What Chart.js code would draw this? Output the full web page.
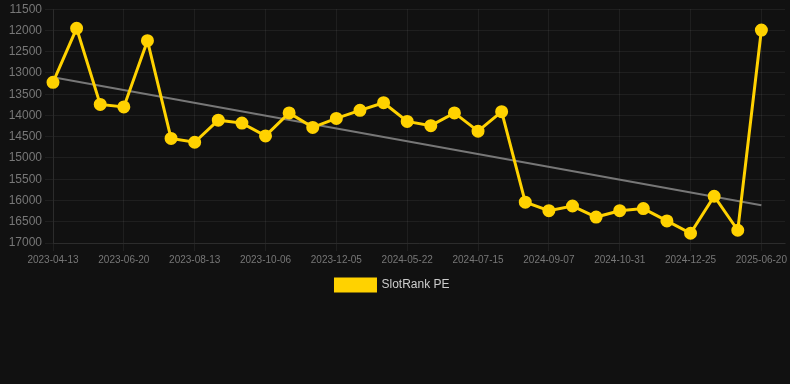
<!DOCTYPE html>
<html>
<head>
<meta charset="utf-8">
<script src="https://cdn.jsdelivr.net/npm/chart.js@4/dist/chart.umd.min.js"></script>
<style>
    html, body { margin: 0; padding: 0; background: #111111; overflow: hidden; }
    #wrap { position: relative; width: 790px; height: 302px; margin-top: -1px; }
</style>
</head>
<body>
<div id="wrap"><canvas id="chart"></canvas></div>
<script>
"use strict";

// rank per date, lower is better (axis is reversed)
const DATES = [
    "2023-04-13", "2023-05-06", "2023-05-28", "2023-06-20", "2023-07-08", "2023-07-26",
    "2023-08-13", "2023-08-31", "2023-09-18", "2023-10-06", "2023-10-26", "2023-11-15",
    "2023-12-05", "2024-02-10", "2024-04-01", "2024-05-22", "2024-06-09", "2024-06-27",
    "2024-07-15", "2024-08-02", "2024-08-20", "2024-09-07", "2024-09-25", "2024-10-13",
    "2024-10-31", "2024-11-18", "2024-12-07", "2024-12-25", "2025-02-20", "2025-04-20",
    "2025-06-20"
];
const RANKS = [
    13220, 11950, 13740, 13800, 12240, 14540, 14630, 14110, 14180, 14480, 13940,
    14280, 14070, 13880, 13700, 14140, 14240, 13940, 14370, 13910, 16040, 16240,
    16130, 16390, 16240, 16190, 16480, 16770, 15900, 16700, 11990
];
const TREND_START = 13100;
const TREND_END = 16110;

const Y_MIN = 11500;
const Y_MAX = 17000;
const Y_STEP = 500;
const LABEL_EVERY = 3;

const GOLD = "#ffd200";
const GRID = "rgba(255,255,255,0.06)";
const FONT = "Arial, 'Liberation Sans', sans-serif";

document.addEventListener("DOMContentLoaded", () => {
    const ctx = document.getElementById("chart").getContext("2d");
    // one empty slot after the last date: the grid runs on past the last point
    const labels = DATES.concat([""]);
    new Chart(ctx, {
        type: "line",
        data: {
            labels,
            datasets: [{
                label: "SlotRank PE",
                data: RANKS,
                borderColor: GOLD,
                backgroundColor: GOLD,
                borderWidth: 3,
                pointRadius: 5,
                pointHoverRadius: 6,
                pointBackgroundColor: GOLD,
                pointBorderColor: GOLD,
                tension: 0,
                clip: false,
                order: 1
            }, {
                label: "trend",
                data: [
                    { x: DATES[0], y: TREND_START },
                    { x: DATES[DATES.length - 1], y: TREND_END }
                ],
                borderColor: "#777777",
                borderWidth: 2,
                pointRadius: 0,
                tension: 0,
                order: 2
            }]
        },
        options: {
            responsive: true, maintainAspectRatio: false, animation: false,
            layout: { autoPadding: false, padding: { left: 0, right: 5 } },
            plugins: {
                legend: {
                    position: "bottom",
                    labels: {
                        color: "#cccccc",
                        font: { family: FONT, size: 12 },
                        boxWidth: 40, boxHeight: 12,
                        filter: item => item.datasetIndex === 0
                    }
                },
                tooltip: { enabled: false }
            },
            scales: {
                x: {
                    grid: {
                        color: c => (c.index % LABEL_EVERY === 0 && c.index < DATES.length ? GRID : "transparent")
                    },
                    border: { color: GRID },
                    ticks: {
                        autoSkip: false, maxRotation: 0,
                        color: "#777777",
                        font: { family: FONT, size: 10 },
                        callback: (v, i) => (i % LABEL_EVERY === 0 && i < DATES.length ? DATES[i] : "")
                    }
                },
                y: {
                    reverse: true,
                    min: Y_MIN, max: Y_MAX,
                    afterFit: s => { s.width = 53; },
                    grid: { color: GRID },
                    border: { color: GRID },
                    ticks: {
                        stepSize: Y_STEP,
                        color: "#777777",
                        font: { family: FONT, size: 12 },
                        callback: v => String(v)
                    }
                }
            }
        }
    });
});
</script>
</body>
</html>
